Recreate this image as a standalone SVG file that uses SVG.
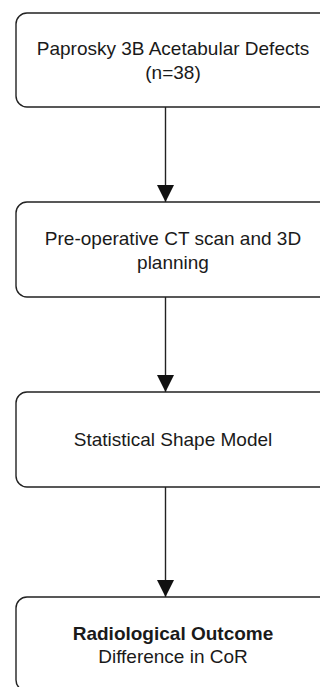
<svg xmlns="http://www.w3.org/2000/svg" width="320" height="687" viewBox="0 0 320 687">
  <style>
    .box { fill: #ffffff; stroke: #222222; stroke-width: 1.4; }
    .label { font-family: "Liberation Sans", Arial, Helvetica, sans-serif; font-size: 19px; fill: #1a1a1a; text-anchor: middle; }
    .bold { font-weight: bold; }
    .edge { stroke: #222222; stroke-width: 1.4; fill: none; }
  </style>
  <defs>
    <marker id="arrowhead" markerUnits="userSpaceOnUse" markerWidth="17" markerHeight="19" refX="17" refY="8.5" orient="auto">
      <path d="M0,0 L17,8.5 L0,17 Z" fill="#111111"/>
    </marker>
  </defs>
  <rect x="0" y="0" width="320" height="687" fill="#ffffff"/>

  <g id="connectors">
    <line class="edge" x1="165.5" y1="107" x2="165.5" y2="202" marker-end="url(#arrowhead)"/>
    <line class="edge" x1="165.5" y1="297" x2="165.5" y2="392" marker-end="url(#arrowhead)"/>
    <line class="edge" x1="165.5" y1="487" x2="165.5" y2="597" marker-end="url(#arrowhead)"/>
  </g>

  <g id="defects">
    <rect class="box" x="16" y="13" width="314" height="94" rx="11" ry="11"/>
    <text class="label" x="173" y="55">Paprosky 3B Acetabular Defects</text>
    <text class="label" x="173" y="79">(n=38)</text>
  </g>

  <g id="planning">
    <rect class="box" x="16" y="202" width="314" height="95" rx="11" ry="11"/>
    <text class="label" x="173" y="244.5">Pre-operative CT scan and 3D</text>
    <text class="label" x="173" y="268.5">planning</text>
  </g>

  <g id="ssm">
    <rect class="box" x="16" y="392" width="314" height="95" rx="11" ry="11"/>
    <text class="label" x="173" y="446">Statistical Shape Model</text>
  </g>

  <g id="outcome">
    <rect class="box" x="16" y="597" width="314" height="94" rx="11" ry="11"/>
    <text class="label bold" x="173" y="639.5">Radiological Outcome</text>
    <text class="label" x="173" y="663">Difference in CoR</text>
  </g>
</svg>
